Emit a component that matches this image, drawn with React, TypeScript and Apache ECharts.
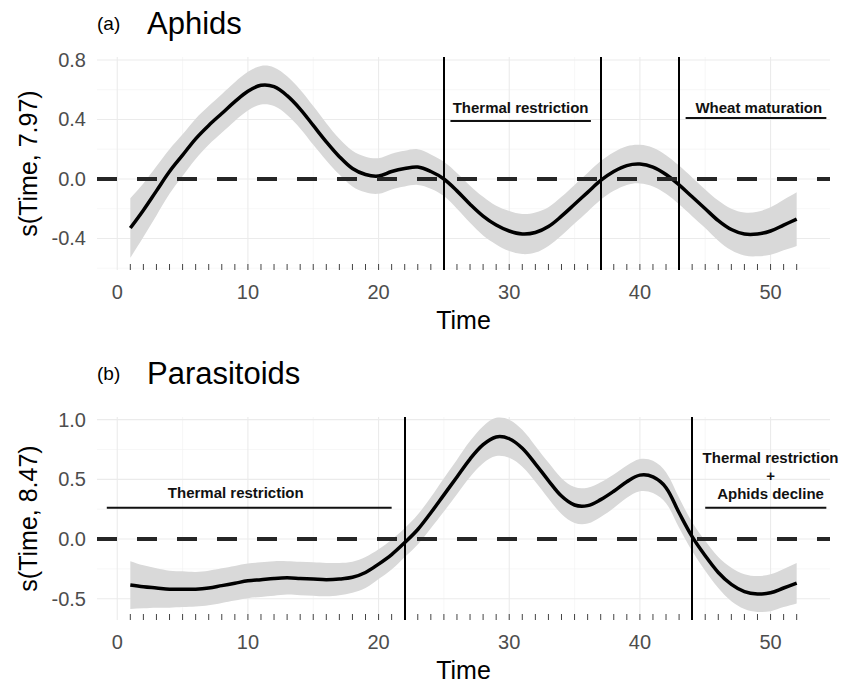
import React, { useEffect, useRef } from "react";
import * as echarts from "echarts";

// ---------- data ----------
const TIME = [1, 2, 3, 4, 5, 6, 7, 8, 9, 10, 11, 12, 13, 14, 15, 16, 17, 18, 19, 20, 21, 22, 23, 24, 25, 26, 27, 28, 29, 30, 31, 32, 33, 34, 35, 36, 37, 38, 39, 40, 41, 42, 43, 44, 45, 46, 47, 48, 49, 50, 51, 52];

const FIT_APHIDS = [
  -0.33, -0.21, -0.08, 0.05, 0.16, 0.27, 0.36, 0.44, 0.52, 0.59,
  0.63, 0.62, 0.56, 0.47, 0.36, 0.25, 0.15, 0.07, 0.03, 0.02,
  0.05, 0.07, 0.08, 0.05, 0.0, -0.08, -0.17, -0.25, -0.31, -0.35,
  -0.37, -0.36, -0.32, -0.25, -0.17, -0.09, -0.01, 0.05, 0.09, 0.10,
  0.08, 0.03, -0.04, -0.12, -0.20, -0.28, -0.34, -0.37, -0.37, -0.35,
  -0.31, -0.27,
];
const SE_APHIDS = [
  0.20, 0.18, 0.165, 0.15, 0.14, 0.135, 0.13, 0.13, 0.13, 0.13,
  0.13, 0.13, 0.13, 0.13, 0.13, 0.125, 0.12, 0.12, 0.12, 0.12,
  0.12, 0.12, 0.12, 0.115, 0.115, 0.12, 0.125, 0.13, 0.13, 0.135,
  0.135, 0.135, 0.13, 0.13, 0.13, 0.13, 0.13, 0.13, 0.13, 0.13,
  0.13, 0.13, 0.13, 0.13, 0.13, 0.135, 0.14, 0.145, 0.15, 0.16,
  0.17, 0.18,
];

const FIT_PARASITOIDS = [
  -0.385, -0.40, -0.41, -0.42, -0.42, -0.42, -0.41, -0.39, -0.37, -0.35,
  -0.34, -0.33, -0.325, -0.33, -0.335, -0.34, -0.335, -0.32, -0.28, -0.21,
  -0.13, -0.03, 0.08, 0.22, 0.37, 0.52, 0.67, 0.79, 0.855, 0.84,
  0.76, 0.63, 0.49, 0.36, 0.285, 0.28, 0.33, 0.40, 0.48, 0.535,
  0.52, 0.43, 0.22, 0.02, -0.14, -0.28, -0.38, -0.44, -0.46, -0.45,
  -0.41, -0.37,
];
const SE_PARASITOIDS = [
  0.20, 0.18, 0.165, 0.155, 0.15, 0.145, 0.145, 0.145, 0.145, 0.145,
  0.145, 0.145, 0.14, 0.14, 0.14, 0.14, 0.135, 0.13, 0.13, 0.125,
  0.125, 0.12, 0.125, 0.13, 0.14, 0.145, 0.15, 0.155, 0.16, 0.16,
  0.155, 0.15, 0.15, 0.15, 0.15, 0.15, 0.145, 0.14, 0.135, 0.135,
  0.135, 0.13, 0.125, 0.12, 0.125, 0.13, 0.14, 0.145, 0.15, 0.155,
  0.16, 0.17,
];

const X_TICKS = [0, 10, 20, 30, 40, 50];
const X_MINOR = [5, 15, 25, 35, 45];
const Y_TICKS_APHIDS = [-0.4, 0.0, 0.4, 0.8];
const Y_MINOR_APHIDS = [-0.6, -0.2, 0.2, 0.6];
const Y_TICKS_PARASITOIDS = [-0.5, 0.0, 0.5, 1.0];
const Y_MINOR_PARASITOIDS = [-0.25, 0.25, 0.75];

const VLINES_APHIDS = [25, 37, 43];
const VLINES_PARASITOIDS = [22, 44];

const ANNOT_APHIDS = [
  { text: "Thermal restriction", tx: 30.87, ty: 0.483, x1: 25.5, x2: 36.25, y: 0.39 },
  { text: "Wheat maturation", tx: 49.1, ty: 0.483, x1: 43.5, x2: 54.27, y: 0.41 },
];
const ANNOT_PARASITOIDS = [
  { text: "Thermal restriction", tx: 9.07, ty: 0.39, x1: -0.8, x2: 21.0, y: 0.262 },
  { text: "Thermal restriction\n+\nAphids decline", tx: 50.0, ty: 0.536, x1: 45.0, x2: 54.27, y: 0.262 },
];

// ---------- layout / style ----------
const FONT = "'Liberation Sans', Arial, Helvetica, sans-serif";
const X_MIN = -1.55;
const X_MAX = 54.55;
const SMOOTH = 0.35;

const PANELS = [
  {
    letter: "(a)", title: "Aphids", yName: "s(Time, 7.97)",
    fit: FIT_APHIDS, se: SE_APHIDS, yMin: -0.612, yMax: 0.82,
    yTicks: Y_TICKS_APHIDS, yMinor: Y_MINOR_APHIDS, vlines: VLINES_APHIDS, annot: ANNOT_APHIDS,
    top: 57, height: 213, titleY: 26,
  },
  {
    letter: "(b)", title: "Parasitoids", yName: "s(Time, 8.47)",
    fit: FIT_PARASITOIDS, se: SE_PARASITOIDS, yMin: -0.678, yMax: 1.022,
    yTicks: Y_TICKS_PARASITOIDS, yMinor: Y_MINOR_PARASITOIDS, vlines: VLINES_PARASITOIDS, annot: ANNOT_PARASITOIDS,
    top: 417, height: 203, titleY: 376,
  },
];

function buildOption() {
  const grid: any[] = [];
  const xAxis: any[] = [];
  const yAxis: any[] = [];
  const series: any[] = [];
  const graphic: any[] = [];

  PANELS.forEach((p, gi) => {
    grid.push({ left: 97, right: 13, top: p.top, height: p.height, containLabel: false, outerBoundsMode: "none" });
    xAxis.push({
      type: "value", gridIndex: gi, min: X_MIN, max: X_MAX,
      axisLine: { show: false }, axisTick: { show: false }, splitLine: { show: false },
      axisLabel: { customValues: X_TICKS, color: "#4d4d4d", fontSize: 20, fontFamily: FONT, margin: 12, formatter: (v: number) => String(Math.round(v)) },
      name: "Time", nameLocation: "middle", nameGap: 37,
      nameTextStyle: { color: "#000", fontSize: 25, fontFamily: FONT },
    });
    yAxis.push({
      type: "value", gridIndex: gi, min: p.yMin, max: p.yMax,
      axisLine: { show: false }, axisTick: { show: false }, splitLine: { show: false },
      axisLabel: { customValues: p.yTicks, color: "#4d4d4d", fontSize: 20, fontFamily: FONT, margin: 11, formatter: (v: number) => v.toFixed(1) },
      name: p.yName, nameLocation: "middle", nameGap: 54,
      nameTextStyle: { color: "#000", fontSize: 25, fontFamily: FONT },
    });

    // grid lines
    const lines: any[] = [
      ...p.yMinor.map((v) => ({ dir: "h", v, major: false })),
      ...X_MINOR.map((v) => ({ dir: "v", v, major: false })),
      ...p.yTicks.map((v) => ({ dir: "h", v, major: true })),
      ...X_TICKS.map((v) => ({ dir: "v", v, major: true })),
    ];
    series.push({
      type: "custom", xAxisIndex: gi, yAxisIndex: gi, silent: true, z: 0,
      data: lines.map((l) => (l.dir === "v" ? [l.v, p.yMin] : [X_MIN, l.v])),
      renderItem: (params: any, api: any) => {
        const l = lines[params.dataIndex];
        const a = l.dir === "v" ? api.coord([l.v, p.yMin]) : api.coord([X_MIN, l.v]);
        const b = l.dir === "v" ? api.coord([l.v, p.yMax]) : api.coord([X_MAX, l.v]);
        return {
          type: "line", silent: true,
          shape: { x1: a[0], y1: a[1], x2: b[0], y2: b[1] },
          style: { stroke: l.major ? "#ebebeb" : "#f4f4f4", lineWidth: l.major ? 1.1 : 0.7 },
        };
      },
    });

    // confidence band: one smoothed polygon (upper edge forward, lower edge back);
    // end points are doubled so that the band keeps square ends
    series.push({
      type: "custom", xAxisIndex: gi, yAxisIndex: gi, silent: true, z: 1,
      data: TIME.map((t, i) => [t, p.fit[i] - p.se[i], p.fit[i] + p.se[i]]),
      encode: { x: 0, y: [1, 2] },
      renderItem: (params: any, api: any) => {
        if (params.dataIndex !== 0) return null;
        const upper = TIME.map((t, i) => api.coord([t, p.fit[i] + p.se[i]]));
        const lower = TIME.map((t, i) => api.coord([t, p.fit[i] - p.se[i]])).reverse();
        const dbl = (arr: number[][]) => [arr[0], ...arr, arr[arr.length - 1]];
        return {
          type: "polygon", silent: true,
          shape: { points: dbl(upper).concat(dbl(lower)), smooth: SMOOTH },
          style: { fill: "#d9d9d9", stroke: "none" },
        };
      },
    });

    // zero line (dashed)
    series.push({
      type: "line", xAxisIndex: gi, yAxisIndex: gi, silent: true, z: 2,
      data: [], symbol: "none",
      markLine: {
        silent: true, symbol: ["none", "none"], label: { show: false },
        data: [{ yAxis: 0, lineStyle: { type: [20, 20], width: 4, color: "#262626" } }],
      },
    });

    // fitted curve
    series.push({
      type: "custom", xAxisIndex: gi, yAxisIndex: gi, silent: true, z: 3,
      data: TIME.map((t, i) => [t, p.fit[i]]),
      renderItem: (params: any, api: any) => {
        if (params.dataIndex !== 0) return null;
        const pts = TIME.map((t, i) => api.coord([t, p.fit[i]]));
        return {
          type: "polyline", silent: true,
          shape: { points: pts, smooth: SMOOTH },
          style: { stroke: "#000", lineWidth: 3.5, fill: "none", lineJoin: "round" },
        };
      },
    });

    // vertical lines
    series.push({
      type: "line", xAxisIndex: gi, yAxisIndex: gi, silent: true, z: 4,
      data: [], symbol: "none",
      markLine: {
        silent: true, symbol: ["none", "none"], label: { show: false },
        data: p.vlines.map((v) => ({ xAxis: v, lineStyle: { type: "solid", width: 2, color: "#000" } })),
      },
    });

    // rug
    series.push({
      type: "custom", xAxisIndex: gi, yAxisIndex: gi, silent: true, z: 4,
      data: TIME.map((t) => [t, p.yMin]),
      renderItem: (params: any, api: any) => {
        const c = api.coord([api.value(0), p.yMin]);
        return {
          type: "line", silent: true,
          shape: { x1: c[0], y1: c[1], x2: c[0], y2: c[1] - 6 },
          style: { stroke: "#444", lineWidth: 1 },
        };
      },
    });

    // annotation segments
    p.annot.forEach((a) => {
      series.push({
        type: "line", xAxisIndex: gi, yAxisIndex: gi, silent: true, z: 4,
        symbol: "none", lineStyle: { color: "#111", width: 2 },
        data: [[a.x1, a.y], [a.x2, a.y]],
      });
    });
    // annotation texts
    series.push({
      type: "custom", xAxisIndex: gi, yAxisIndex: gi, silent: true, z: 5,
      data: p.annot.map((a) => [a.tx, a.ty]),
      renderItem: (params: any, api: any) => {
        const a = p.annot[params.dataIndex];
        const c = api.coord([a.tx, a.ty]);
        return {
          type: "text", silent: true, x: c[0], y: c[1],
          style: {
            text: a.text, fill: "#111", fontSize: 15, fontWeight: "bold", fontFamily: FONT,
            align: "center", verticalAlign: "middle", lineHeight: 18,
          },
        };
      },
    });

    graphic.push({
      type: "text", left: 97, top: p.titleY - 12,
      style: { text: p.letter, fill: "#000", fontSize: 19, fontFamily: FONT },
    });
    graphic.push({
      type: "text", left: 147, top: p.titleY - 18,
      style: { text: p.title, fill: "#000", fontSize: 31, fontFamily: FONT },
    });
  });

  return {
    animation: false,
    backgroundColor: "#ffffff",
    textStyle: { fontFamily: FONT },
    grid, xAxis, yAxis, series, graphic,
  };
}

export default function App() {
  const ref = useRef<HTMLDivElement>(null);
  useEffect(() => {
    if (!ref.current) return;
    const chart = echarts.init(ref.current, null, { renderer: "svg", width: 843, height: 682 });
    chart.setOption(buildOption() as any);
    return () => chart.dispose();
  }, []);
  return (
    <div
      ref={ref}
      style={{ position: "fixed", left: 0, top: 0, width: 843, height: 682, background: "#fff" }}
    />
  );
}
